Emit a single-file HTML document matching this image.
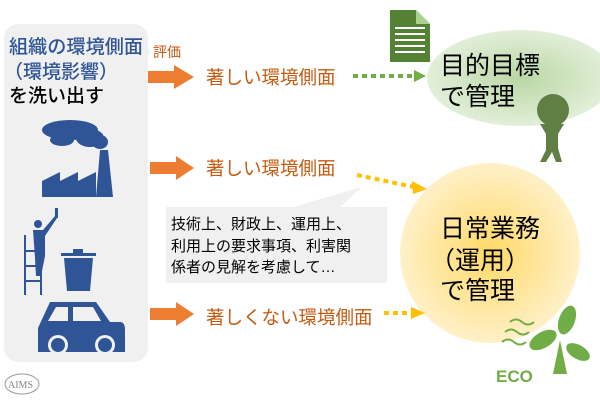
<!DOCTYPE html>
<html><head><meta charset="utf-8"><style>
html,body{margin:0;padding:0;background:#fff;}
svg{display:block;font-family:"Liberation Sans","Noto Sans CJK JP",sans-serif;}
</style></head><body>
<svg width="600" height="401" viewBox="0 0 600 401" xmlns="http://www.w3.org/2000/svg">
<defs>
<radialGradient id="gy" cx="0.5" cy="0.5" r="0.5"><stop offset="0" stop-color="#ffd966"/><stop offset="1" stop-color="#fff0c8"/></radialGradient>
<radialGradient id="gg" cx="0.5" cy="0.5" r="0.5"><stop offset="0" stop-color="#b9d7a4"/><stop offset="1" stop-color="#e2efd9"/></radialGradient>
</defs>
<rect x="4" y="24" width="144" height="338" rx="14" fill="#f0f0f0"/>
<g font-size="19" font-weight="500">
<text x="9" y="53" fill="#2f5597" textLength="134" lengthAdjust="spacingAndGlyphs">組織の環境側面</text>
<text x="4" y="78" fill="#2f5597">（環境影響）</text>
<text x="9" y="102" fill="#000">を洗い出す</text>
</g>
<text x="153" y="57" fill="#c55a11" font-size="14">評価</text>
<g fill="#ed7d31">
<path d="M148 71h26v-6l20 12-20 12v-6h-26z"/>
<path d="M150 162h26v-6l18 12-18 12v-6h-26z"/>
<path d="M150 308h26v-6l18 12-18 12v-6h-26z"/>
</g>
<g fill="#c55a11" font-size="18.5">
<text x="206" y="84">著しい環境側面</text>
<text x="206" y="175">著しい環境側面</text>
<text x="206" y="324">著しくない環境側面</text>
</g>
<ellipse cx="520" cy="78" rx="93" ry="48" fill="url(#gg)"/>
<line x1="353" y1="76" x2="415" y2="76" stroke="#70ad47" stroke-width="4" stroke-dasharray="5,4"/>
<path d="M414 70l12 6-12 6z" fill="#70ad47"/>
<path d="M390 10h26l14 14v38h-40z" fill="#548235"/>
<path d="M416 10v14h14z" fill="#a9d18e"/>
<g stroke="#fff" stroke-width="2"><line x1="395" y1="28" x2="425" y2="28"/><line x1="395" y1="34" x2="425" y2="34"/><line x1="395" y1="40" x2="425" y2="40"/><line x1="395" y1="46" x2="425" y2="46"/><line x1="395" y1="52" x2="425" y2="52"/></g>
<g font-size="25" fill="#000"><text x="440" y="74">目的目標</text><text x="440" y="105">で管理</text></g>
<circle cx="553" cy="110" r="16" fill="#5f7f45"/>
<path d="M540 124l6 10v16l-6 12h6l6-10 4 10h6l-4-14v-14l6-10z" fill="#5f7f45"/>
<circle cx="490" cy="253" r="90" fill="url(#gy)"/>
<line x1="357" y1="175" x2="414" y2="187" stroke="#ffc000" stroke-width="4" stroke-dasharray="5,4"/>
<path d="M412 181l15 8-14 5z" fill="#ffc000"/>
<line x1="384" y1="313" x2="412" y2="313" stroke="#ffc000" stroke-width="4" stroke-dasharray="5,4"/>
<path d="M411 307l14 6-14 6z" fill="#ffc000"/>
<g font-size="25" fill="#000"><text x="440" y="237">日常業務</text><text x="430" y="269">（運用）</text><text x="440" y="299">で管理</text></g>
<path d="M166 207h128l68-20-22 20h47v76h-221z" fill="#f0f0f0"/>
<g font-size="15" fill="#000"><text x="171" y="229">技術上、財政上、運用上、</text><text x="171" y="251">利用上の要求事項、利害関</text><text x="171" y="272">係者の見解を考慮して…</text></g>
<g fill="#2f5597">
<ellipse cx="70" cy="130" rx="28" ry="10"/><ellipse cx="90" cy="138" rx="14" ry="9"/><ellipse cx="100" cy="142" rx="8" ry="7"/><ellipse cx="62" cy="140" rx="12" ry="6"/>
<path d="M42 197v-16l18-9v9l18-9v9l18-9v25z"/><path d="M100 150h8l5 47h-17z"/>
<circle cx="38" cy="224" r="4"/><path d="M33 230h10l12-14 2 2-12 18v20l-4 20h-5l-1-18z"/>
<rect x="55" y="208" width="3" height="10"/>
<path d="M24 235h2v60h-2zM40 235h2v60h-2zM24 250h18v2h-18zM24 265h18v2h-18zM24 280h18v2h-18z"/>
<rect x="61" y="253" width="35" height="3"/><rect x="73" y="249" width="10" height="4"/>
<path d="M64 258h29l-3 33h-23z"/>
<path d="M50 302h46l14 20h10q5 0 5 8v22h-87v-24z"/>
<circle cx="58" cy="345" r="10" fill="#f0f0f0"/><circle cx="58" cy="345" r="7"/>
<circle cx="105" cy="345" r="10" fill="#f0f0f0"/><circle cx="105" cy="345" r="7"/>
</g>
<path d="M56 307h12v14h-20zM73 307h20l8 14h-28z" fill="#f0f0f0"/>
<ellipse cx="22" cy="384" rx="17" ry="10" fill="none" stroke="#999" stroke-width="1"/>
<text x="8" y="388" font-family="Liberation Serif,serif" font-size="10" fill="#888">AIMS</text>
<g fill="#70ad47">
<path d="M560 340l-7 34h14z"/>
<ellipse cx="543" cy="340" rx="15" ry="8" transform="rotate(-30 543 340)"/>
<ellipse cx="567" cy="320" rx="15" ry="8" transform="rotate(-70 567 320)"/>
<ellipse cx="578" cy="352" rx="13" ry="7" transform="rotate(30 578 352)"/>
<text x="496" y="382" font-size="17" font-weight="bold">ECO</text>
</g>
<g fill="none" stroke="#70ad47" stroke-width="2"><path d="M510 322q6-5 12 0t12 0"/><path d="M505 332q6-5 12 0t12 0"/><path d="M502 342q6-5 12 0t12 0"/></g>
</svg>
</body></html>
